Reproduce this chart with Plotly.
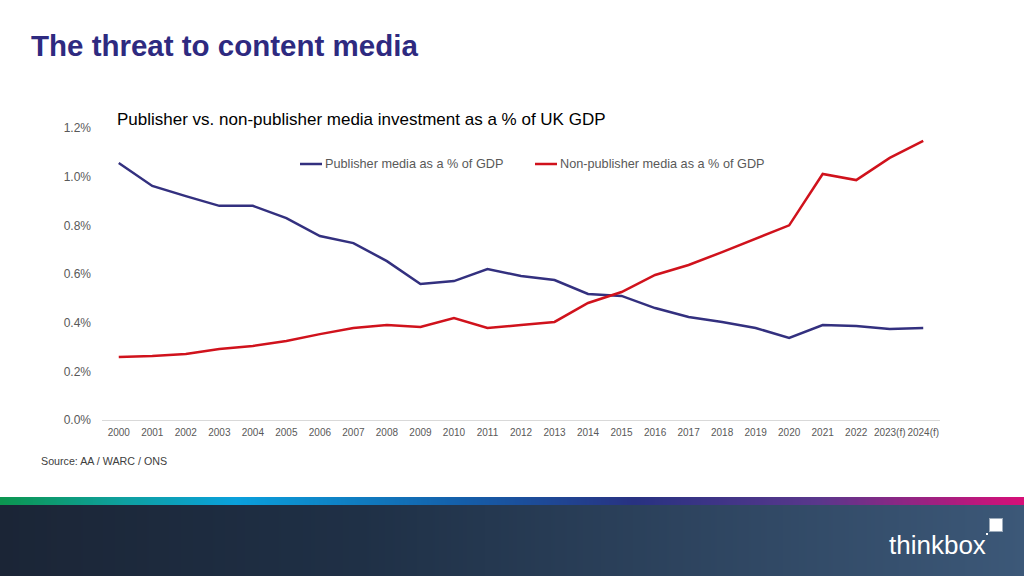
import base64, struct, zlib
import plotly.graph_objects as go

years = ["2000", "2001", "2002", "2003", "2004", "2005", "2006", "2007", "2008", "2009",
         "2010", "2011", "2012", "2013", "2014", "2015", "2016", "2017", "2018", "2019",
         "2020", "2021", "2022", "2023(f)", "2024(f)"]
publisher = [1.056, 0.962, 0.920, 0.880, 0.880, 0.830, 0.756, 0.727, 0.653, 0.559,
             0.571, 0.620, 0.592, 0.575, 0.518, 0.510, 0.460, 0.423, 0.403, 0.378,
             0.337, 0.390, 0.386, 0.374, 0.378]
non_publisher = [0.259, 0.263, 0.271, 0.292, 0.304, 0.325, 0.353, 0.378, 0.390, 0.382,
                 0.419, 0.378, 0.390, 0.403, 0.481, 0.526, 0.596, 0.637, 0.690, 0.744,
                 0.800, 1.011, 0.986, 1.077, 1.147]
series_names = ["Publisher media as a % of GDP", "Non-publisher media as a % of GDP"]
series_colors = ["#33307f", "#d0121c"]
y_ticks = [0.0, 0.2, 0.4, 0.6, 0.8, 1.0, 1.2]
y_tick_labels = ["0.0%", "0.2%", "0.4%", "0.6%", "0.8%", "1.0%", "1.2%"]


def gradient_png(stops, width=512):
    def lerp(c1, c2, t):
        return tuple(int(round(a + (b - a) * t)) for a, b in zip(c1, c2))
    row = bytearray([0])
    for i in range(width):
        p = i / (width - 1)
        for j in range(len(stops) - 1):
            p0, c0 = stops[j]
            p1, c1 = stops[j + 1]
            if p0 <= p <= p1:
                col = lerp(c0, c1, (p - p0) / (p1 - p0) if p1 > p0 else 0)
                break
        row.extend(col)
    raw = bytes(row) * 2

    def chunk(tag, data):
        c = struct.pack(">I", len(data)) + tag + data
        return c + struct.pack(">I", zlib.crc32(tag + data) & 0xffffffff)
    png = b"\x89PNG\r\n\x1a\n"
    png += chunk(b"IHDR", struct.pack(">IIBBBBB", width, 2, 8, 2, 0, 0, 0))
    png += chunk(b"IDAT", zlib.compress(raw))
    png += chunk(b"IEND", b"")
    return "data:image/png;base64," + base64.b64encode(png).decode()


stripe = gradient_png([(0.0, (12, 150, 80)), (0.12, (14, 160, 160)), (0.23, (10, 160, 220)),
                       (0.45, (20, 95, 170)), (0.62, (40, 50, 130)), (0.80, (90, 55, 140)),
                       (1.0, (215, 15, 120))])
band = gradient_png([(0.0, (27, 37, 54)), (0.35, (31, 48, 70)), (1.0, (60, 88, 120))])

W, H = 1024, 576
L, R, T, B = 102, 84, 128, 156
pw, ph = W - L - R, H - T - B


def px(x):
    return (x - L) / pw


def py(y):
    return (H - B - y) / ph


fig = go.Figure()
for vals, name, color in zip([publisher, non_publisher], series_names, series_colors):
    fig.add_trace(go.Scatter(x=years, y=vals, mode="lines", name=name,
                             line=dict(color=color, width=2.5), showlegend=False))

# manual legend (short line samples as in the reference)
legend_x = [300, 535]
shapes = []
annotations = []
for lx, name, color in zip(legend_x, series_names, series_colors):
    shapes.append(dict(type="line", xref="paper", yref="paper", x0=px(lx), x1=px(lx + 22),
                       y0=py(164), y1=py(164), line=dict(color=color, width=2.5)))
    annotations.append(dict(text=name, xref="paper", yref="paper", x=px(lx + 23), y=py(164),
                            xanchor="left", yanchor="middle", showarrow=False,
                            font=dict(size=12.7, color="#595959")))

shapes += [
    dict(type="rect", xref="paper", yref="paper", x0=px(990), x1=px(1002), y0=py(531), y1=py(519),
         fillcolor="white", line=dict(color="rgba(255,255,255,0.5)", width=2)),
    dict(type="rect", xref="paper", yref="paper", x0=px(986), x1=px(988), y0=py(535), y1=py(533),
         fillcolor="white", line=dict(width=0)),
]

annotations += [
    dict(text="<b>The threat to content media</b>", xref="paper", yref="paper", x=px(29), y=py(45),
         xanchor="left", yanchor="middle", showarrow=False,
         font=dict(size=29.5, color="#2e2a80", family="Liberation Sans, Arial, sans-serif")),
    dict(text="Publisher vs. non-publisher media investment as a % of UK GDP", xref="paper", yref="paper",
         x=px(115), y=py(119), xanchor="left", yanchor="middle", showarrow=False,
         font=dict(size=17, color="#000000")),
    dict(text="Source: AA / WARC / ONS", xref="paper", yref="paper", x=px(39), y=py(461),
         xanchor="left", yanchor="middle", showarrow=False, font=dict(size=10.7, color="#404040")),
    dict(text="thinkbox", xref="paper", yref="paper", x=px(887), y=py(545),
         xanchor="left", yanchor="middle", showarrow=False,
         font=dict(size=26, color="white", family="Liberation Sans Narrow, Liberation Sans, Arial")),
]

fig.update_layout(
    width=W, height=H,
    margin=dict(l=L, r=R, t=T, b=B),
    paper_bgcolor="white", plot_bgcolor="white",
    font=dict(family="Liberation Sans, Arial, sans-serif", color="#595959"),
    showlegend=False,
    xaxis=dict(type="category", range=[-0.5, len(years) - 0.5], showgrid=False, zeroline=False,
               showline=True, linecolor="#d9d9d9", linewidth=1, ticks="",
               tickfont=dict(size=10, color="#595959"), tickangle=0, ticklabelstandoff=3,
               fixedrange=True),
    yaxis=dict(range=[0, 1.2], tickvals=y_ticks, ticktext=y_tick_labels, showgrid=False,
               zeroline=False, showline=False, ticks="", tickfont=dict(size=12, color="#595959"),
               ticklabelstandoff=10, fixedrange=True),
    images=[
        dict(source=stripe, xref="paper", yref="paper", x=px(0), y=py(497), sizex=px(W) - px(0),
             sizey=py(497) - py(505), xanchor="left", yanchor="top", sizing="stretch", layer="below"),
        dict(source=band, xref="paper", yref="paper", x=px(0), y=py(505), sizex=px(W) - px(0),
             sizey=py(505) - py(576), xanchor="left", yanchor="top", sizing="stretch", layer="below"),
    ],
    shapes=shapes,
    annotations=annotations,
)

fig.write_html("out.html", config={"displayModeBar": False},
               post_script="document.body.style.margin='0';document.body.style.overflow='hidden';")
